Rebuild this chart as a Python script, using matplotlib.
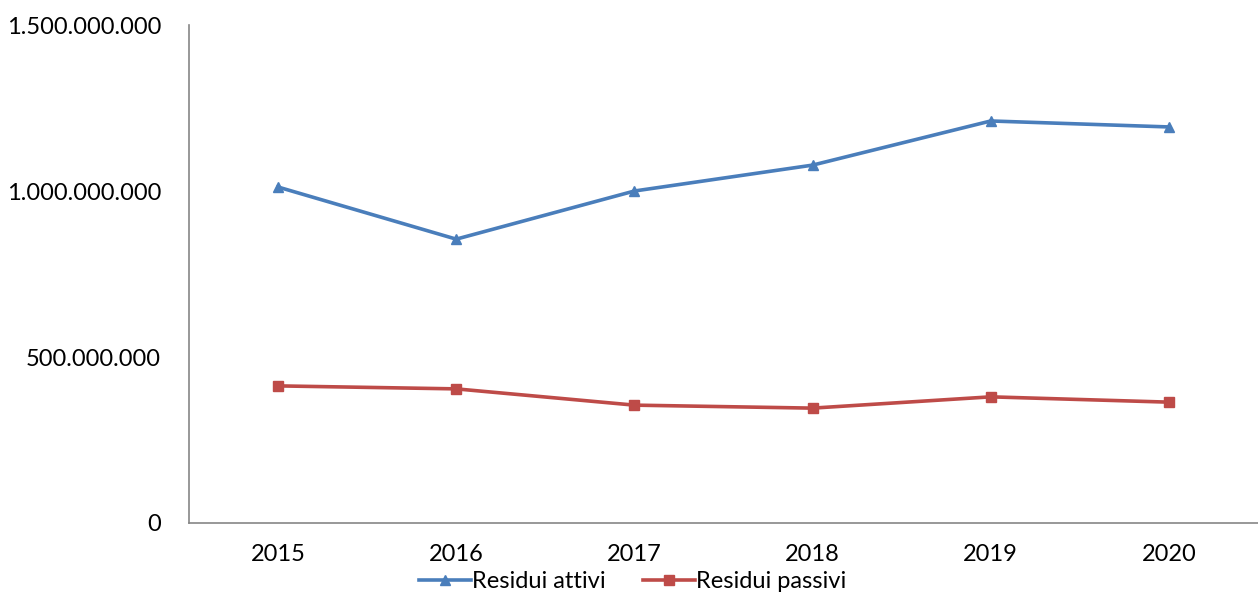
import matplotlib
matplotlib.use('Agg')
import matplotlib.pyplot as plt
from matplotlib.ticker import FuncFormatter

years = ['2015', '2016', '2017', '2018', '2019', '2020']
attivi = [1012e6, 855e6, 1000e6, 1078e6, 1211e6, 1193e6]
passivi = [413e6, 404e6, 355e6, 346e6, 380e6, 364e6]

plt.rcParams['font.family'] = ['Lato', 'DejaVu Sans']

fig = plt.figure(figsize=(12.58, 5.96), dpi=100)
ax = fig.add_axes([0.1502, 0.1225, 0.8498, 0.8355])

x = range(len(years))
ax.plot(x, attivi, color='#4A7EBB', lw=2.6, marker='^', ms=7, label='Residui attivi')
ax.plot(x, passivi, color='#BE4B48', lw=2.6, marker='s', ms=6.5, label='Residui passivi')

ax.set_xlim(-0.5, 5.5)
ax.set_ylim(0, 1.5e9)
ax.set_yticks([0, 5e8, 1e9, 1.5e9])
ax.yaxis.set_major_formatter(FuncFormatter(lambda v, p: '{:,.0f}'.format(v).replace(',', '.')))
ax.set_xticks(list(x))
ax.set_xticklabels(years)
ax.tick_params(length=0, labelsize=17, colors='black')
ax.tick_params(axis='y', pad=20)
ax.tick_params(axis='x', pad=15)

for s in ['top', 'right']:
    ax.spines[s].set_visible(False)
for s in ['left', 'bottom']:
    ax.spines[s].set_color('#868686')
    ax.spines[s].set_linewidth(1.2)

fig.legend(loc='center', bbox_to_anchor=(0.503, 0.024), ncol=2, frameon=False,
           fontsize=17, handlelength=2.2, handletextpad=0.05, columnspacing=1.6)

fig.savefig('out.png', dpi=100)
